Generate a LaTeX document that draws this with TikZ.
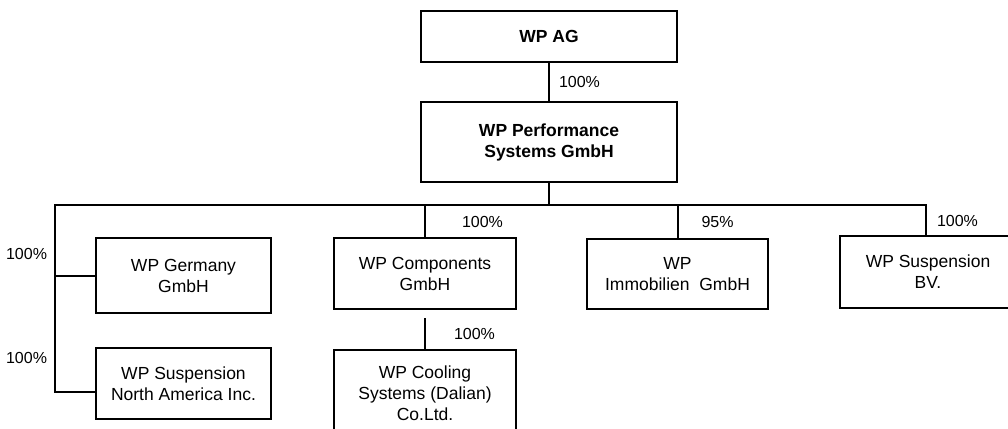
\documentclass[tikz,border=0pt]{standalone}
\usepackage{fontspec}
\setmainfont{Liberation Sans}
\usetikzlibrary{positioning}

\begin{document}
\begin{tikzpicture}
    [
    line width=2pt,
    basic/.style={draw, text centered, align=center, outer sep=0pt},
    box/.style={basic, font=\fontsize{17.5}{21}\selectfont},
    topbox/.style={box, font=\fontsize{17.5}{21}\selectfont\bfseries, minimum width=256pt},
    pct/.style={inner sep=0pt, font=\fontsize{16}{19}\selectfont}
    ]
    \useasboundingbox (0,0) rectangle (1008pt,-428pt);
    \clip (0,0) rectangle (1008pt,-428pt);

    % Holding
    \node [topbox, minimum height=51pt] (ag) at (549pt,-36.5pt) {WP AG};
    \node [topbox, minimum height=80pt, below=40pt of ag] (wpps) {WP Performance\\Systems GmbH};
    \draw (ag) -- node[pct, right=9pt] {100\%} (wpps);
    \coordinate [below=23pt of wpps.south] (bus);
    % Tochtergesellschaften
    \node [box, minimum width=175pt, minimum height=75pt, below left=33pt and 278pt of bus] (germ) {WP Germany\\GmbH};
    \node [box, minimum width=175pt, minimum height=71pt, below=35pt of germ] (na) {WP Suspension\\North America Inc.};
    \node [box, minimum width=182pt, minimum height=71pt, below left=33pt and 33pt of bus] (comp) {WP Components\\GmbH};
    \node [box, minimum width=182pt, minimum height=86pt, below=41pt of comp] (cool) {WP Cooling\\Systems (Dalian)\\Co.Ltd.};
    \node [box, minimum width=181pt, minimum height=70pt, below right=34pt and 38pt of bus] (immo) {WP\\Immobilien~ GmbH};
    \node [box, minimum width=176pt, minimum height=72pt, below right=31pt and 291pt of bus] (bv) {WP Suspension\\BV.};
    % Verbindungen
    \coordinate [left=41pt of germ.west] (gjoin);
    \coordinate (najoin) at ([xshift=-41pt, yshift=-8pt]na.west);
    \coordinate (bvin) at ([xshift=86pt]bv.north west);
    \draw (wpps) -- (bus);
    \draw (na.west |- najoin) -- (najoin)
        -- node[pct, pos=.29, left=7pt] {100\%} (gjoin)
        -- node[pct, pos=.31, left=7pt] {100\%} (gjoin |- bus)
        -- (bvin |- bus)
        -- node[pct, right=10pt] {100\%} (bvin);
    \draw (gjoin) -- (germ.west);
    \draw (comp |- bus) -- node[pct, right=36pt] {100\%} (comp);
    \draw (immo |- bus) -- node[pct, right=23pt] {95\%} (immo);
    \draw ([yshift=-9pt]comp.south) -- node[pct, right=28pt] {100\%} (cool);
\end{tikzpicture}
\end{document}
